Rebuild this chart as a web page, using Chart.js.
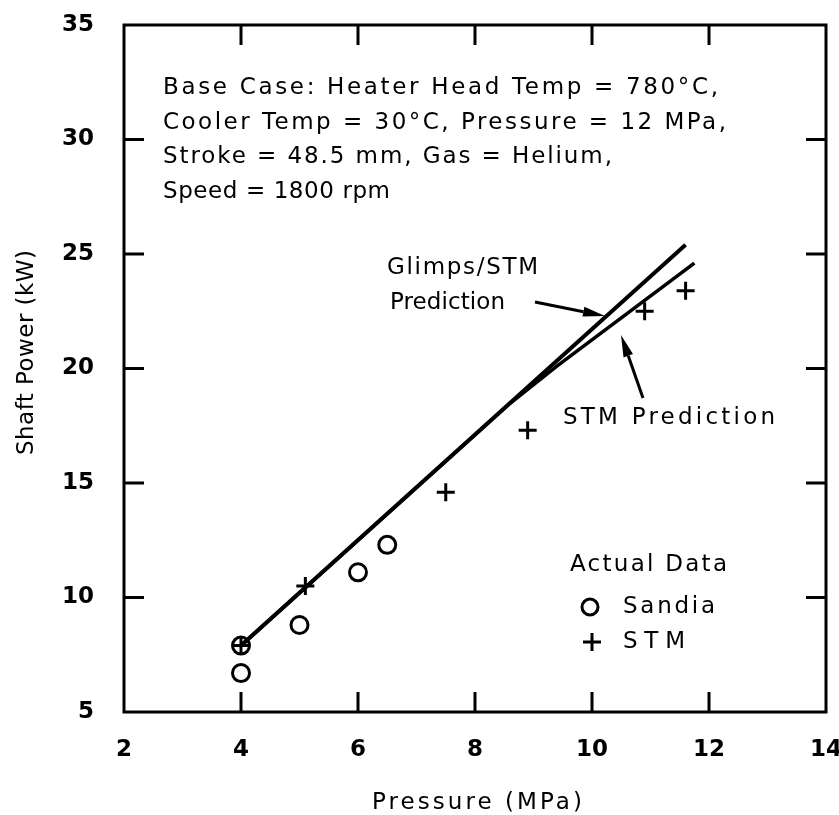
<!DOCTYPE html>
<html><head><meta charset="utf-8">
<script src="https://cdn.jsdelivr.net/npm/chart.js@4"></script>
<style>html,body{margin:0;padding:0;background:#fff}#wrap{width:839px;height:815px}</style>
</head><body><div id="wrap"><canvas id="c" width="839" height="815"></canvas></div>
<script>
// ---- data ----
const sandiaX = [4, 4, 5, 6, 6.5];
const sandiaY = [6.7, 7.9, 8.8, 11.1, 12.3];
const stmX = [4, 5.1, 7.5, 8.9, 10.9, 11.6];
const stmY = [7.9, 10.5, 14.6, 17.3, 22.5, 23.4];
const glimpsX = [4, 11.6];
const glimpsY = [7.9, 25.4];
const stmPredX = [4, 8.6, 9.4, 11.75];
const stmPredY = [7.9, 18.48, 20.1, 24.6];
const xTicks = [2, 4, 6, 8, 10, 12, 14];
const yTicks = [5, 10, 15, 20, 25, 30, 35];
const noteLines = [
  "Base Case: Heater Head Temp = 780°C,",
  "Cooler Temp = 30°C, Pressure = 12 MPa,",
  "Stroke = 48.5 mm, Gas = Helium,",
  "Speed = 1800 rpm"
];
const xTitle = "Pressure (MPa)";
const yTitle = "Shaft Power (kW)";

const pts = (xs, ys) => xs.map((x, i) => ({x, y: ys[i]}));
const FONT = "'DejaVu Sans', Verdana, sans-serif";

function fitText(ctx, text, x, y, w) {
  ctx.letterSpacing = '0px';
  const m = ctx.measureText(text).width;
  const ls = (w - m) / Math.max(1, text.length - 1);
  ctx.letterSpacing = ls + 'px';
  ctx.fillText(text, x, y);
  ctx.letterSpacing = '0px';
}
function arrow(ctx, x1, y1, x2, y2) {
  const a = Math.atan2(y2 - y1, x2 - x1), L = 22, W = 5;
  const bx = x2 - L * Math.cos(a), by = y2 - L * Math.sin(a);
  ctx.beginPath(); ctx.moveTo(x1, y1); ctx.lineTo(bx, by); ctx.lineWidth = 3; ctx.stroke();
  ctx.beginPath(); ctx.moveTo(x2, y2);
  ctx.lineTo(bx + W * Math.sin(a), by - W * Math.cos(a));
  ctx.lineTo(bx - W * Math.sin(a), by + W * Math.cos(a));
  ctx.closePath(); ctx.fill();
}

const deco = {
  id: 'deco',
  afterDraw(chart) {
    const ctx = chart.ctx, a = chart.chartArea, xs = chart.scales.x, ys = chart.scales.y;
    ctx.save();
    ctx.strokeStyle = '#000'; ctx.fillStyle = '#000';
    ctx.lineWidth = 3;
    ctx.strokeRect(a.left, a.top, a.right - a.left, a.bottom - a.top);
    const TL = 20;
    xTicks.slice(1, -1).forEach(v => {
      const p = xs.getPixelForValue(v);
      ctx.beginPath(); ctx.moveTo(p, a.bottom); ctx.lineTo(p, a.bottom - TL);
      ctx.moveTo(p, a.top); ctx.lineTo(p, a.top + TL); ctx.stroke();
    });
    yTicks.slice(1, -1).forEach(v => {
      const p = ys.getPixelForValue(v);
      ctx.beginPath(); ctx.moveTo(a.left, p); ctx.lineTo(a.left + TL, p);
      ctx.moveTo(a.right, p); ctx.lineTo(a.right - TL, p); ctx.stroke();
    });
    ctx.textBaseline = 'middle'; ctx.textAlign = 'left';
    ctx.font = '23px ' + FONT;
    const noteW = [555, 563, 449, 227];
    const noteY = [88, 123, 157, 192];
    noteLines.forEach((t, i) => fitText(ctx, t, 163, noteY[i], noteW[i]));
    fitText(ctx, "Glimps/STM", 387, 268, 151);
    fitText(ctx, "Prediction", 390, 303, 115);
    fitText(ctx, "STM Prediction", 563, 418, 212);
    fitText(ctx, "Actual Data", 570, 565, 157);
    fitText(ctx, "Sandia", 623, 607, 92);
    fitText(ctx, "STM", 623, 642, 62);
    ctx.lineWidth = 3;
    ctx.beginPath(); ctx.arc(590, 607, 8, 0, Math.PI * 2); ctx.stroke();
    ctx.beginPath(); ctx.moveTo(583, 642); ctx.lineTo(601, 642); ctx.moveTo(592, 633); ctx.lineTo(592, 651); ctx.stroke();
    arrow(ctx, 535, 302, 605, 316);
    arrow(ctx, 643, 398, 621, 335);
    ctx.font = '23px ' + FONT;
    fitText(ctx, xTitle, 372, 803, 210);
    ctx.translate(27, 455); ctx.rotate(-Math.PI / 2);
    fitText(ctx, yTitle, 0, 0, 205);
    ctx.restore();
  }
};

const tickFont = {family: FONT, size: 23, weight: 'bold'};
new Chart(document.getElementById('c'), {
  type: 'scatter',
  data: {
    datasets: [
      {label: 'Glimps/STM Prediction', data: pts(glimpsX, glimpsY), showLine: true, borderColor: '#000', borderWidth: 4, pointRadius: 0, order: 2},
      {label: 'STM Prediction', data: pts(stmPredX, stmPredY), showLine: true, borderColor: '#000', borderWidth: 3.5, pointRadius: 0, tension: 0, order: 2},
      {label: 'Sandia', data: pts(sandiaX, sandiaY), pointStyle: 'circle', pointRadius: 8.5, borderColor: '#000', backgroundColor: 'rgba(0,0,0,0)', pointBorderWidth: 3, order: 1},
      {label: 'STM', data: pts(stmX, stmY), pointStyle: 'cross', pointRadius: 9, borderColor: '#000', pointBorderWidth: 3, order: 0}
    ]
  },
  options: {
    responsive: false, animation: false,
    layout: {padding: {left: 0, right: 13, top: 25, bottom: 0}},
    plugins: {legend: {display: false}, tooltip: {enabled: false}},
    scales: {
      x: {
        type: 'linear', min: 2, max: 14,
        afterBuildTicks(s) { s.ticks = xTicks.map(v => ({value: v})); },
        grid: {display: false}, border: {display: false},
        ticks: {padding: 16, color: '#000', font: tickFont, maxRotation: 0, autoSkip: false},
        afterFit(s) { s.height = 103; s.paddingLeft = 0; s.paddingRight = 0; }
      },
      y: {
        type: 'linear', min: 5, max: 35,
        afterBuildTicks(s) { s.ticks = yTicks.map(v => ({value: v})); },
        grid: {display: false}, border: {display: false},
        ticks: {padding: 22, color: '#000', font: tickFont, autoSkip: false},
        afterFit(s) { s.width = 124; s.paddingTop = 0; s.paddingBottom = 0; }
      }
    }
  },
  plugins: [deco]
});
</script>
</body></html>
